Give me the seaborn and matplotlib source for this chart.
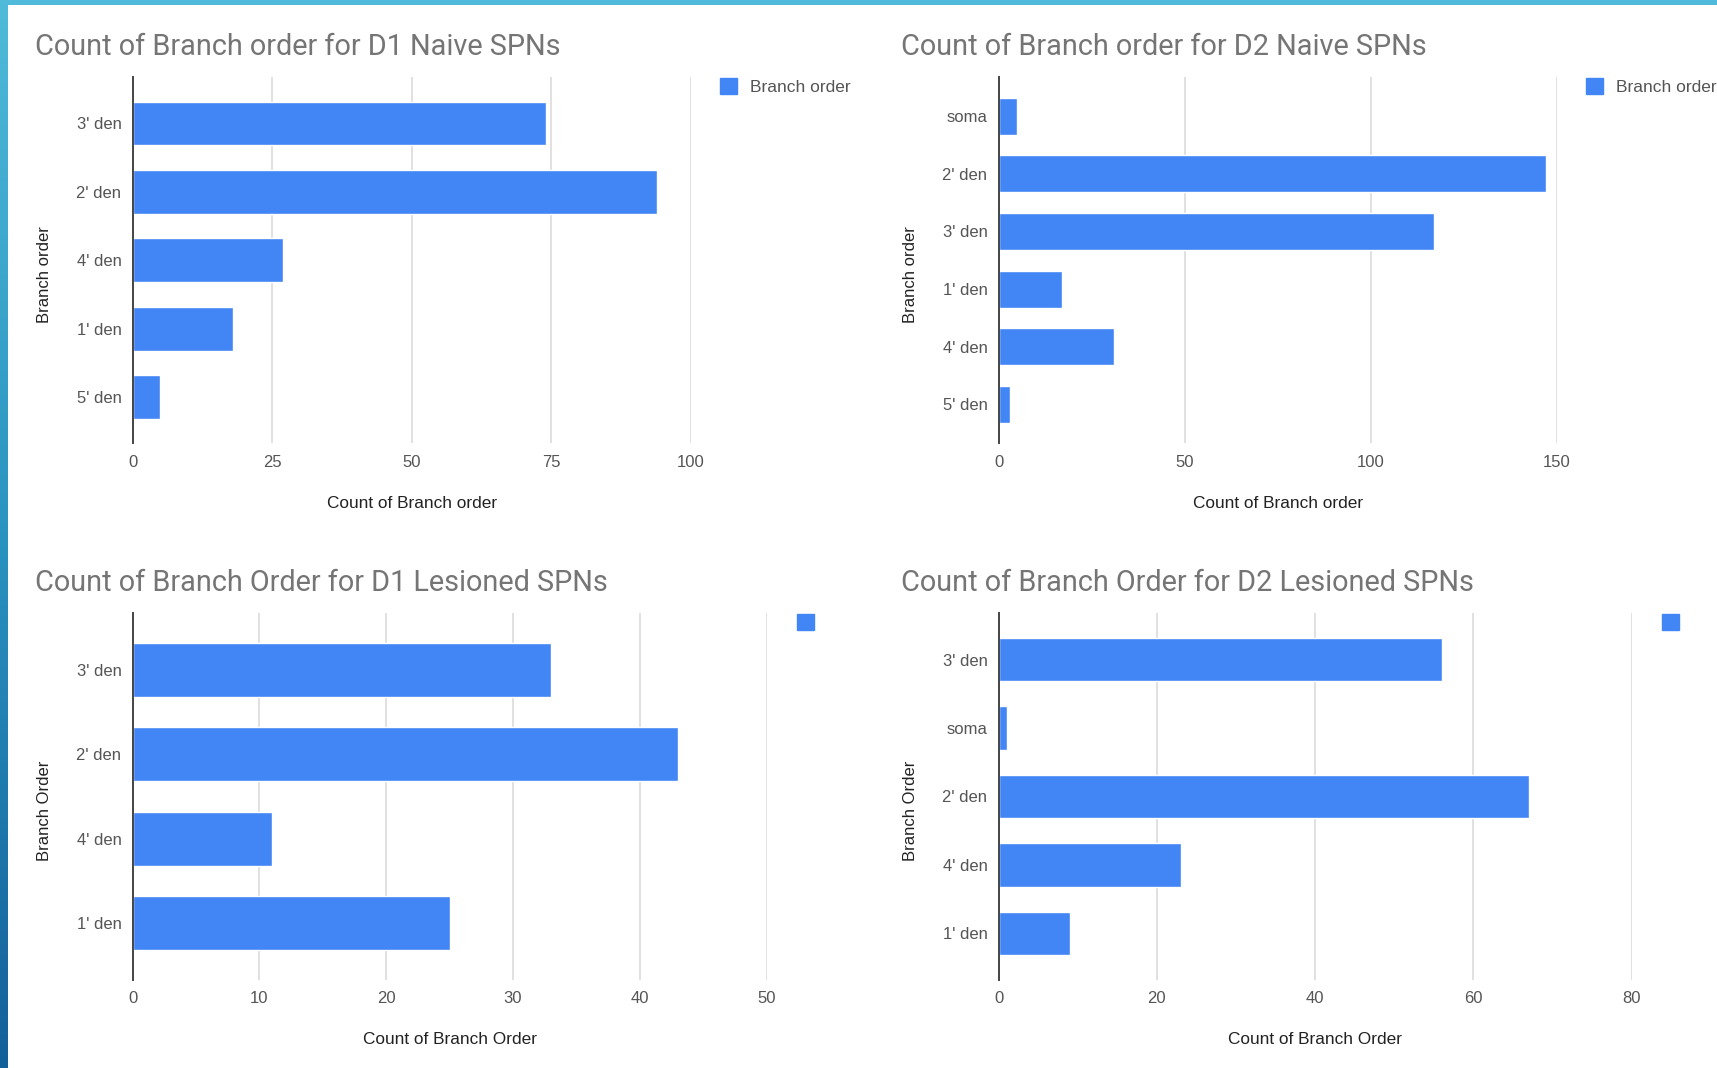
import numpy as np
import pandas as pd
import seaborn as sns
import matplotlib.pyplot as plt
from matplotlib.patches import Patch, Rectangle
from matplotlib.colors import LinearSegmentedColormap

# counts
d1_naive_order = ["3' den", "2' den", "4' den", "1' den", "5' den"]
d1_naive_count = [74, 94, 27, 18, 5]

d2_naive_order = ["soma", "2' den", "3' den", "1' den", "4' den", "5' den"]
d2_naive_count = [5, 147, 117, 17, 31, 3]

d1_les_order = ["3' den", "2' den", "4' den", "1' den"]
d1_les_count = [33, 43, 11, 25]

d2_les_order = ["3' den", "soma", "2' den", "4' den", "1' den"]
d2_les_count = [56, 1, 67, 23, 9]

titles = ["Count of Branch order for D1 Naive SPNs",
          "Count of Branch order for D2 Naive SPNs",
          "Count of Branch Order for D1 Lesioned SPNs",
          "Count of Branch Order for D2 Lesioned SPNs"]
ticks = [[0, 25, 50, 75, 100], [0, 50, 100, 150],
         [0, 10, 20, 30, 40, 50], [0, 20, 40, 60, 80]]

blue = "#4285F4"
W, H = 1717, 1068

sns.set_style("white")
plt.rcParams["font.family"] = ["Liberation Sans", "DejaVu Sans"]

fig = plt.figure(figsize=(W / 100, H / 100), dpi=100)

# blue slide border (top strip + left gradient strip)
bg = fig.add_axes([0, 0, 1, 1], zorder=-10)
bg.axis("off")
cmap = LinearSegmentedColormap.from_list("edge", ["#4FBAD9", "#2A93C0", "#12609A"])
bg.imshow(np.linspace(0, 1, 256).reshape(-1, 1), extent=(0, 7, H, 0),
          cmap=cmap, aspect="auto")
bg.add_patch(Rectangle((0, 0), W, 5, color="#4FBAD9", lw=0))
bg.set_xlim(0, W)
bg.set_ylim(H, 0)

# panel boxes in pixels: left, top, right, bottom
boxes = [(132.5, 77, 691, 443.5), (998.6, 77, 1557, 443.5),
         (132.5, 613, 766.5, 980), (998.6, 613, 1631.5, 980)]
panels = [(d1_naive_order, d1_naive_count), (d2_naive_order, d2_naive_count),
          (d1_les_order, d1_les_count), (d2_les_order, d2_les_count)]
ylabels = ["Branch order", "Branch order", "Branch Order", "Branch Order"]
xlabels = ["Count of Branch order", "Count of Branch order",
           "Count of Branch Order", "Count of Branch Order"]
legend_txt = ["Branch order", "Branch order", " ", " "]

for i, (cats, vals) in enumerate(panels):
    l, t, r, b = boxes[i]
    ax = fig.add_axes([l / W, 1 - b / H, (r - l) / W, (b - t) / H])
    df = pd.DataFrame({"order": cats, "count": vals})
    sns.barplot(data=df, x="count", y="order", color=blue, saturation=1,
                width=0.64, ax=ax)
    n = len(cats)
    ax.set_ylim(n - 1 + 0.68, -0.68)
    ax.set_xlim(0, ticks[i][-1])
    ax.set_xticks(ticks[i])
    ax.xaxis.grid(True, color="#dedede", lw=1.3)
    ax.set_axisbelow(True)
    for s in ["top", "right", "bottom"]:
        ax.spines[s].set_visible(False)
    ax.spines["left"].set_color("#444444")
    ax.spines["left"].set_linewidth(1.4)
    ax.spines["left"].set_zorder(5)
    ax.tick_params(axis="both", length=0, labelsize=12, labelcolor="#555555")
    ax.tick_params(axis="x", pad=8)
    ax.tick_params(axis="y", pad=8)

    ax.set_ylabel(ylabels[i], fontsize=12, color="#222222", va="center")
    ax.yaxis.set_label_coords((l - 88) / W, 1 - ((t + b) / 2 + 14) / H,
                              transform=fig.transFigure)
    ax.set_xlabel(xlabels[i], fontsize=12.4, color="#222222", va="center")
    ax.xaxis.set_label_coords(((l + r) / 2) / W, 1 - (b + 60) / H,
                              transform=fig.transFigure)

    fig.text((35 if i % 2 == 0 else 901) / W, 1 - (t - 30) / H, titles[i],
             fontsize=20.8, color="#757575", family=["Roboto", "DejaVu Sans"],
             ha="left", va="center")

    lx = r + 29 if i < 2 else r + 30
    ax.legend(handles=[Patch(color=blue)], labels=[legend_txt[i]],
              loc="upper left", bbox_to_anchor=(lx / W, 1 - (t + 1) / H),
              bbox_transform=fig.transFigure, frameon=False, borderpad=0,
              borderaxespad=0, handlelength=1.0, handleheight=1.0,
              handletextpad=0.7, fontsize=12.5, labelcolor="#555555")

fig.savefig("out.png", dpi=100, facecolor="white")
